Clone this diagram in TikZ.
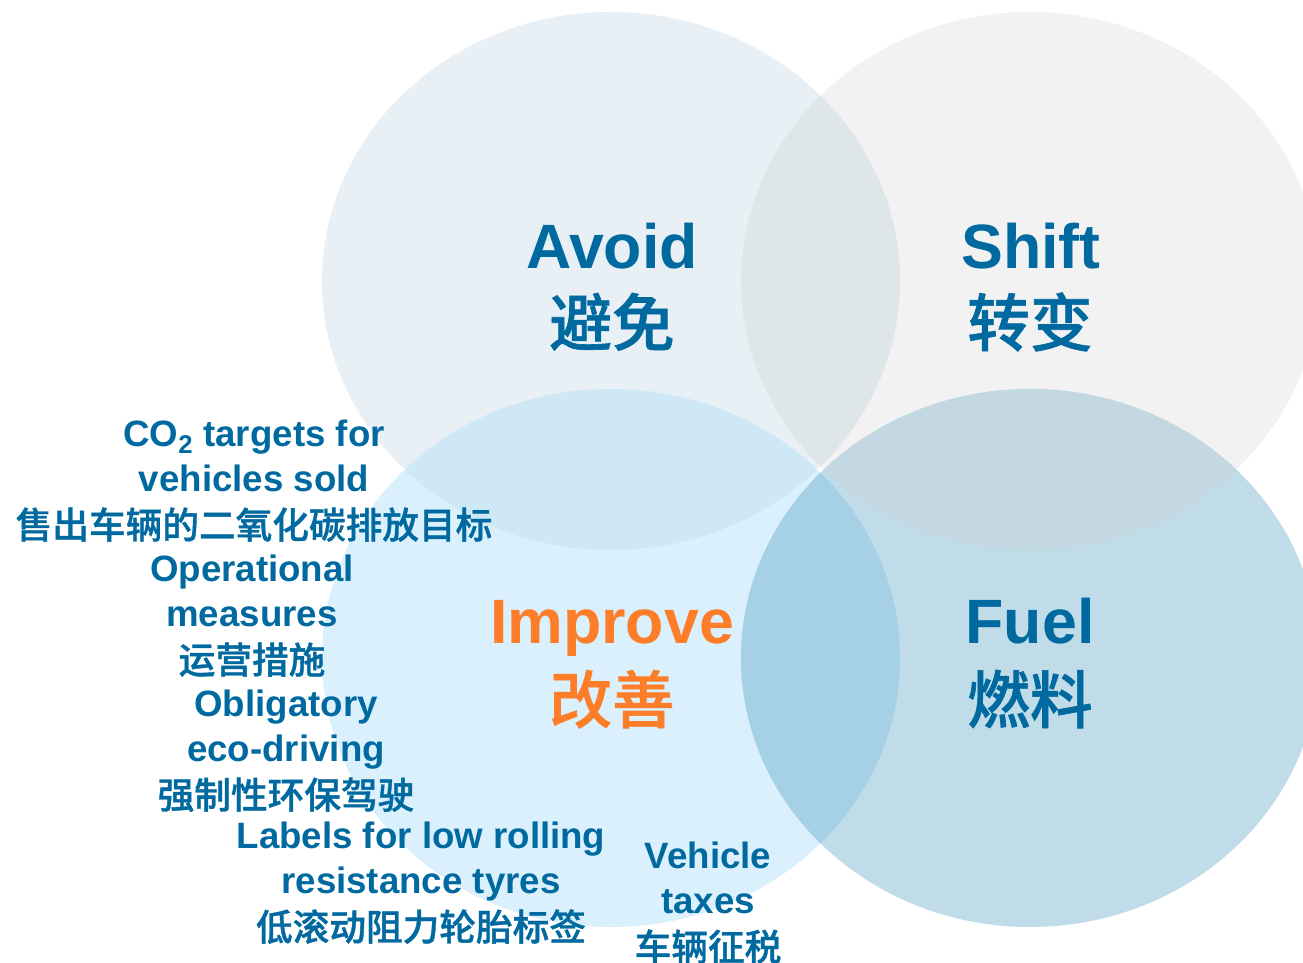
\documentclass[tikz,border=0pt]{standalone}
\usepackage{fontspec}
\setmainfont{Liberation Sans}
\newfontfamily\cjk{Noto Sans CJK SC}[BoldFont={Noto Sans CJK SC Medium}, BoldFeatures={FakeBold=1}]

\definecolor{avoidfill}{HTML}{E8F0F6}
\definecolor{shiftfill}{HTML}{F2F2F2}
\definecolor{improvefill}{HTML}{DAF0FC}
\definecolor{fuelfill}{HTML}{C0DCE8}
\definecolor{avoidshift}{HTML}{DFE6EA}
\definecolor{avoidimprove}{HTML}{CEE8F5}
\definecolor{shiftfuel}{HTML}{C4D8E2}
\definecolor{improvefuel}{HTML}{A6D0E6}
\definecolor{txtblue}{HTML}{006AA0}
\definecolor{txtorange}{HTML}{FD7D28}

\tikzset{
    heading/.style={font=\fontsize{47}{56}\selectfont\bfseries, text=txtblue, inner sep=0pt},
    measure/.style={font=\fontsize{27.5}{33.4}\selectfont\bfseries, text=txtblue, align=center, inner sep=0pt, anchor=north}
}

\begin{document}
\begin{tikzpicture}[x=0.75pt,y=-0.75pt]
    \useasboundingbox (0,0) rectangle (1303,963);
    \clip (0,0) rectangle (1303,963);
    \fill[white] (0,0) rectangle (1303,963);

    % The four ellipses
    \fill[avoidfill] (611,281) ellipse (289 and 269);
    \fill[shiftfill] (1030,281) ellipse (289 and 269);
    \fill[improvefill] (611,658) ellipse (289 and 269);
    \fill[fuelfill] (1030,658) ellipse (289 and 269);

    % Overlaps
    \begin{scope}
        \clip (611,281) ellipse (289 and 269);
        \fill[avoidshift] (1030,281) ellipse (289 and 269);
        \fill[avoidimprove] (611,658) ellipse (289 and 269);
    \end{scope}
    \begin{scope}
        \clip (1030,658) ellipse (289 and 269);
        \fill[shiftfuel] (1030,281) ellipse (289 and 269);
        \fill[improvefuel] (611,658) ellipse (289 and 269);
    \end{scope}

    % Headings
    \node[heading, anchor=base] (avoid) at (612,268) {Avoid};
    \node[heading, anchor=base] (avoidzh) at (612,346) {\cjk\bfseries 避免};
    \node[heading, anchor=base] (shift) at (1031,268) {Shift};
    \node[heading, anchor=base] (shiftzh) at (1030,346) {\cjk\bfseries 转变};
    \node[heading, anchor=base, text=txtorange] (improve) at (612,643) {Improve};
    \node[heading, anchor=base, text=txtorange] (improvezh) at (612,723) {\cjk\bfseries 改善};
    \node[heading, anchor=base] (fuel) at (1030,643) {Fuel};
    \node[heading, anchor=base] (fuelzh) at (1030,723) {\cjk\bfseries 燃料};

    % Measures
    \node[measure] (cotarget) at (254,420) {CO\textsubscript{2} targets for\\vehicles sold\\[2pt]{\cjk\bfseries 售出车辆的二氧化碳排放目标}};
    \node[measure] (operation) at (252,555) {Operational\\measures\\[2pt]{\cjk\bfseries 运营措施}};
    \node[measure] (ecodrive) at (286,690) {Obligatory\\eco-driving\\[2pt]{\cjk\bfseries 强制性环保驾驶}};
    \node[measure] (tyrelabel) at (421,822) {Labels for low rolling\\resistance tyres\\[2pt]{\cjk\bfseries 低滚动阻力轮胎标签}};
    \node[measure] (vehtax) at (708,842) {Vehicle\\taxes\\[2pt]{\cjk\bfseries 车辆征税}};
\end{tikzpicture}
\end{document}
